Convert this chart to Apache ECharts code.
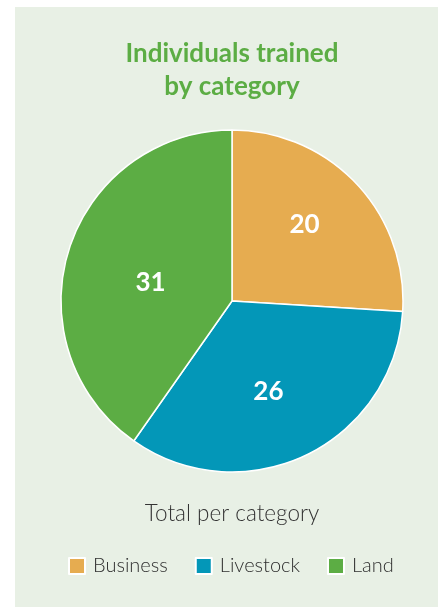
<!DOCTYPE html>
<html>
<head>
<meta charset="utf-8">
<style>
  html, body { margin: 0; padding: 0; background: #fff; }
  #main { width: 438px; height: 607px; }
</style>
<script src="https://cdn.jsdelivr.net/npm/echarts@6/dist/echarts.min.js"></script>
</head>
<body>
<div id="main"></div>
<script>
// data
var categories = ['Business', 'Livestock', 'Land'];
var values = [20, 26, 31];
var colors = ['#E6AC50', '#0397B8', '#5CAD44'];
var titleLines = ['Individuals trained', 'by category'];
// label nudges so numbers sit where the original put them
var labelOffsets = [[8, -16], [-2, 11], [3, 8]];

var myChart = echarts.init(document.getElementById('main'));

myChart.setOption({
  backgroundColor: '#fff',
  animation: false,
  graphic: [{
    type: 'rect',
    z: -10,
    shape: { x: 15, y: 7, width: 423, height: 600 },
    style: { fill: '#E8F0E5' }
  }, {
    type: 'text',
    x: 232,
    y: 54,
    style: {
      text: titleLines[0],
      align: 'center',
      verticalAlign: 'middle',
      font: 'bold 26px Lato',
      fill: '#5CAD44'
    }
  }, {
    type: 'text',
    x: 232,
    y: 87,
    style: {
      text: titleLines[1],
      align: 'center',
      verticalAlign: 'middle',
      font: 'bold 26px Lato',
      fill: '#5CAD44'
    }
  }, {
    type: 'text',
    x: 232,
    y: 514,
    style: {
      text: 'Total per category',
      align: 'center',
      verticalAlign: 'middle',
      font: '300 22.5px Lato',
      fill: '#333'
    }
  }],
  legend: {
    left: 68,
    top: 556,
    padding: 0,
    icon: 'rect',
    itemWidth: 16,
    itemHeight: 16,
    itemGap: 27,
    selectedMode: false,
    data: categories,
    textStyle: {
      fontFamily: 'Lato',
      fontWeight: 300,
      fontSize: 20,
      color: '#2e2e2e',
      padding: [0, 0, 0, 3]
    }
  },
  series: [{
    type: 'pie',
    center: [232, 301],
    radius: 171,
    startAngle: 90,
    clockwise: true,
    silent: true,
    itemStyle: {
      borderColor: '#fff',
      borderWidth: 1.5
    },
    label: {
      show: true,
      position: 'inside',
      formatter: '{c}',
      fontFamily: 'Lato',
      fontWeight: 'bold',
      fontSize: 26,
      color: '#fff'
    },
    labelLine: { show: false },
    data: categories.map(function (name, i) {
      return {
        name: name,
        value: values[i],
        itemStyle: { color: colors[i] },
        label: { offset: labelOffsets[i] }
      };
    })
  }]
});
</script>
</body>
</html>
